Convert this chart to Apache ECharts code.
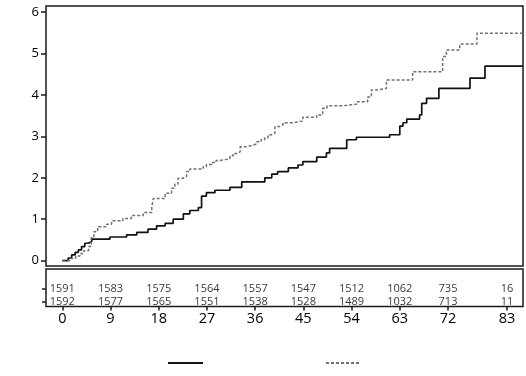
<!DOCTYPE html>
<html><head><meta charset="utf-8">
<script src="https://cdn.jsdelivr.net/npm/echarts@6/dist/echarts.min.js"></script>
<style>html,body{margin:0;padding:0;background:#fff}#c{width:526px;height:376px}</style>
</head><body><div id="c"></div>
<script>
// ---- data ----
const solidMonths = [0, 1.1, 1.75, 2.4, 3.0, 3.6, 4.2, 4.85, 5.5, 8.9, 12.0, 13.9, 16.0, 17.6, 19.2, 20.7, 22.6, 23.8, 25.4, 26.0, 26.9, 28.5, 31.3, 33.5, 37.8, 39.1, 40.2, 42.2, 44.0, 44.9, 47.5, 49.3, 49.9, 53.1, 54.9, 61.1, 63.0, 63.6, 64.3, 66.7, 67.1, 68.0, 70.3, 76.1, 78.9, 86];
const solidValues = [0, 0.06, 0.14, 0.2, 0.26, 0.34, 0.42, 0.46, 0.52, 0.57, 0.62, 0.68, 0.76, 0.84, 0.90, 1.00, 1.13, 1.21, 1.28, 1.56, 1.64, 1.70, 1.77, 1.90, 2.00, 2.09, 2.15, 2.24, 2.31, 2.39, 2.50, 2.60, 2.71, 2.92, 2.98, 3.04, 3.25, 3.33, 3.42, 3.52, 3.80, 3.92, 4.16, 4.41, 4.70, 4.70];

const dashedMonths = [0, 1.5, 2.5, 3.3, 4.0, 4.9, 5.4, 5.9, 6.6, 8.3, 9.2, 11.3, 12.9, 15.1, 16.7, 17.0, 19.2, 20.4, 21.0, 21.6, 22.6, 23.2, 23.8, 26.3, 26.9, 27.9, 28.7, 29.4, 31.3, 31.9, 32.8, 33.2, 34.4, 35.6, 36.3, 37.1, 37.8, 38.4, 39.1, 39.7, 40.6, 41.2, 43.0, 44.9, 47.5, 48.6, 49.4, 52.4, 55.0, 57.0, 57.7, 58.7, 60.5, 65.4, 71.0, 71.7, 74.2, 77.4, 86];
const dashedValues = [0, 0.05, 0.11, 0.17, 0.24, 0.34, 0.55, 0.70, 0.82, 0.88, 0.96, 1.02, 1.09, 1.16, 1.30, 1.50, 1.63, 1.75, 1.85, 1.99, 2.03, 2.15, 2.21, 2.27, 2.32, 2.37, 2.42, 2.46, 2.53, 2.59, 2.63, 2.75, 2.79, 2.82, 2.87, 2.92, 2.97, 3.04, 3.08, 3.24, 3.28, 3.33, 3.37, 3.46, 3.52, 3.68, 3.74, 3.78, 3.84, 3.95, 4.12, 4.16, 4.36, 4.56, 4.93, 5.09, 5.23, 5.49, 5.49];

const yTickValues = [0, 1, 2, 3, 4, 5, 6];
const tickMonths = [0, 9, 18, 27, 36, 45, 54, 63, 72, 83];
const atRiskSolid = [1591, 1583, 1575, 1564, 1557, 1547, 1512, 1062, 735, 16];
const atRiskDashed = [1592, 1577, 1565, 1551, 1538, 1528, 1489, 1032, 713, 11];

// ---- chart ----
const FONT = "'Open Sans', 'Noto Sans', 'DejaVu Sans', sans-serif";
const ROW1 = 1.4, ROW2 = 0.4;
const pairs = (xs, ys) => xs.map((x, i) => [x, ys[i]]);
const chart = echarts.init(document.getElementById('c'), null, {renderer: 'canvas'});
const BOX = '#1a1a1a';

const rowLabel = {
  show: true, position: 'inside', color: '#000', fontSize: 11, fontFamily: FONT,
  formatter: p => String(p.value[2])
};

chart.setOption({
  animation: false,
  backgroundColor: '#fff',
  grid: [
    {left: 46, top: 6, right: 3, height: 260, show: true, borderColor: BOX, borderWidth: 1.5},
    {left: 46, top: 269, right: 3, height: 37.5, show: true, borderColor: BOX, borderWidth: 1.5}
  ],
  xAxis: [
    {gridIndex: 0, type: 'value', min: -3.04, max: 86, show: false},
    {gridIndex: 1, type: 'value', min: -3.04, max: 86,
     axisLine: {show: false, onZero: false}, splitLine: {show: false},
     axisTick: {show: true, length: 4, customValues: tickMonths, lineStyle: {color: BOX, width: 1.5}},
     axisLabel: {customValues: tickMonths, fontSize: 14.5, color: '#000', margin: 5, fontFamily: FONT}}
  ],
  yAxis: [
    {gridIndex: 0, type: 'value', min: -0.13, max: 6.15,
     axisLine: {show: false, onZero: false}, splitLine: {show: false},
     axisTick: {show: true, length: 5, customValues: yTickValues, lineStyle: {color: BOX, width: 1.5}},
     axisLabel: {customValues: yTickValues, fontSize: 13, color: '#000', margin: 7, fontFamily: FONT}},
    {gridIndex: 1, type: 'value', min: 0, max: 3,
     axisLine: {show: false, onZero: false}, splitLine: {show: false},
     axisTick: {show: true, length: 4, customValues: [ROW2, ROW1], lineStyle: {color: BOX, width: 1.5}},
     axisLabel: {show: false}}
  ],
  legend: [
    {data: ['Solid'], left: 167, top: 358, padding: 0, itemWidth: 35, itemHeight: 10, formatter: () => '', selectedMode: false,
     itemStyle: {opacity: 0}},
    {data: ['Dashed'], left: 325, top: 358, padding: 0, itemWidth: 35, itemHeight: 10, formatter: () => '', selectedMode: false,
     itemStyle: {opacity: 0}}
  ],
  series: [
    {name: 'Solid', type: 'line', xAxisIndex: 0, yAxisIndex: 0, step: 'end', symbol: 'none',
     data: pairs(solidMonths, solidValues),
     lineStyle: {color: '#111', width: 1.7}, itemStyle: {color: '#111'}},
    {name: 'Dashed', type: 'line', xAxisIndex: 0, yAxisIndex: 0, step: 'end', symbol: 'none',
     data: pairs(dashedMonths, dashedValues),
     lineStyle: {color: '#707070', width: 1.5, type: [3, 2]}, itemStyle: {color: '#707070'}},
    {name: 'riskSolid', type: 'scatter', xAxisIndex: 1, yAxisIndex: 1, symbolSize: 1,
     itemStyle: {color: 'rgba(0,0,0,0)'}, label: rowLabel, silent: true,
     data: tickMonths.map((m, i) => [m, ROW1, atRiskSolid[i]])},
    {name: 'riskDashed', type: 'scatter', xAxisIndex: 1, yAxisIndex: 1, symbolSize: 1,
     itemStyle: {color: 'rgba(0,0,0,0)'}, label: rowLabel, silent: true,
     data: tickMonths.map((m, i) => [m, ROW2, atRiskDashed[i]])}
  ]
});
</script></body></html>
